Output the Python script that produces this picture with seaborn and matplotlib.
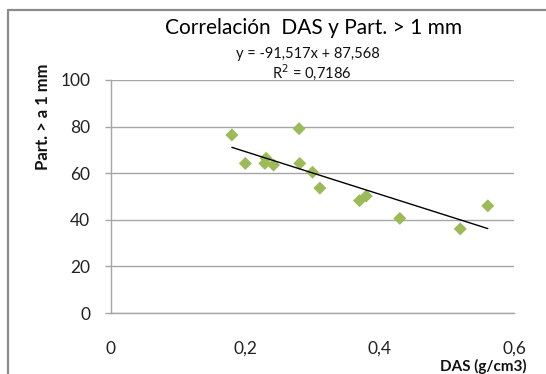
import numpy as np
import pandas as pd
import matplotlib
matplotlib.use("Agg")
import matplotlib.pyplot as plt
import seaborn as sns
from matplotlib.lines import Line2D
from matplotlib.ticker import FuncFormatter

# Data
das = [0.18, 0.20, 0.231, 0.229, 0.242, 0.28, 0.281, 0.30, 0.311, 0.370, 0.380, 0.43, 0.52, 0.561]
part = [76.4, 64.2, 66.4, 64.2, 63.5, 79.1, 64.2, 60.4, 53.6, 48.2, 50.2, 40.6, 36.1, 46.0]
trend_coef = [-91.517, 87.568]
r2 = 0.7186
x_ticks = [0, 0.2, 0.4, 0.6]
y_ticks = [0, 20, 40, 60, 80, 100]

df = pd.DataFrame({"DAS": das, "Part": part})

sns.set_theme(style="white")
plt.rcParams["font.family"] = ["Lato", "DejaVu Sans"]

W, H = 546, 374
fig = plt.figure(figsize=(W / 100, H / 100), dpi=100)
ax = fig.add_axes([111 / W, 1 - 313 / H, (514 - 111) / W, (313 - 80) / H])

sns.scatterplot(data=df, x="DAS", y="Part", marker="D", s=44, color="#9BBB59",
                edgecolor="none", linewidth=0, ax=ax, zorder=3)

xs = np.array([min(das), max(das)])
ax.plot(xs, trend_coef[0] * xs + trend_coef[1], color="black", lw=1.0, zorder=4)

ax.set_xlim(0, 0.6)
ax.set_ylim(0, 100)
ax.set_xticks(x_ticks)
ax.set_yticks(y_ticks)
ax.xaxis.set_major_formatter(FuncFormatter(lambda v, p: ("%g" % v).replace(".", ",")))
ax.yaxis.grid(True, color="#A6A6A6", lw=1.0)
ax.set_axisbelow(True)
for s in ["top", "right"]:
    ax.spines[s].set_visible(False)
for s in ["left", "bottom"]:
    ax.spines[s].set_color("#A6A6A6")
    ax.spines[s].set_linewidth(1.0)
ax.tick_params(axis="y", which="major", left=True, length=4, width=1, color="#A6A6A6",
               pad=11, labelsize=12.5, labelcolor="#222222")
ax.tick_params(axis="x", which="major", bottom=False, length=0, pad=20,
               labelsize=12.5, labelcolor="#222222")
ax.set_xlabel("")
ax.set_ylabel("")

fig.text(314 / W, 1 - 28 / H, "Correlación  DAS y Part. > 1 mm", ha="center", va="center",
         fontsize=15, color="black")
fig.text(308 / W, 1 - 54 / H, "y = -91,517x + 87,568", ha="center", va="center",
         fontsize=10.5, color="#111111")
fig.text(312 / W, 1 - 72 / H, "R$^2$ = 0,7186", ha="center", va="center",
         fontsize=10.5, color="#111111")
fig.text(43 / W, 1 - 117 / H, "Part. > a 1 mm", ha="center", va="center", rotation=90,
         fontsize=12, fontweight="bold", color="#111111")
fig.text(527 / W, 1 - 366 / H, "DAS (g/cm3)", ha="right", va="center",
         fontsize=11, fontweight="bold", color="#111111")

# outer chart frame (left and top visible)
fig.add_artist(Line2D([8 / W, 8 / W], [1 - 10 / H, 0], color="#8C8C8C", lw=1.6,
                      transform=fig.transFigure))
fig.add_artist(Line2D([8 / W, 1], [1 - 10 / H, 1 - 10 / H], color="#8C8C8C", lw=1.6,
                      transform=fig.transFigure))

fig.savefig("out.png", dpi=100)
